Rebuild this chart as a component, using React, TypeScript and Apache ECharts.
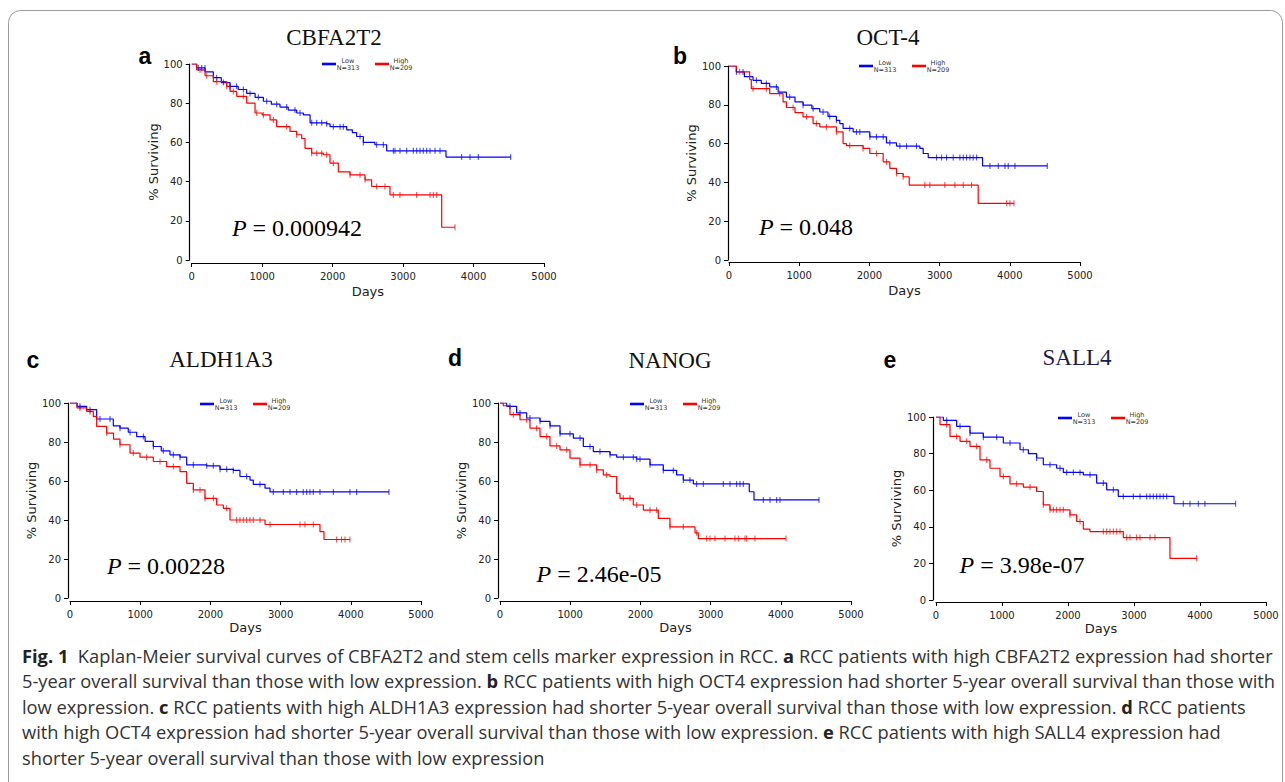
import React, { useEffect, useRef } from "react";
import * as echarts from "echarts";

// ---------- data ----------
const xTicksMax = 5000;
const yTicksMax = 100;
const genes = ["CBFA2T2", "OCT-4", "ALDH1A3", "NANOG", "SALL4"];
const letters = ["a", "b", "c", "d", "e"];
const pValues = ["0.000942", "0.048", "0.00228", "2.46e-05", "3.98e-07"];
const groupLabels = ["Low", "High"];
const groupN = ["N=313", "N=209"];

const lowA = [[0,100],[70,98],[190,96],[307,93],[420,90.5],[544,88.6],[660,87],[780,85],[900,83],[1017,81],[1130,79.5],[1253,78],[1370,76.5],[1490,75],[1585,74],[1680,70],[1915,69.5],[1963,68],[2200,66.4],[2280,65],[2340,63],[2436,60],[2600,58.8],[2767,55.7],[3609,52.5],[4527,52.5]];
const highA = [[0,100],[70,97],[190,94],[307,91],[497,88.6],[544,86],[639,83.5],[780,80],[899,75],[1000,74],[1112,71.5],[1206,68],[1395,65.6],[1490,63.9],[1561,62],[1608,57],[1703,54.5],[1868,53.7],[1963,49.4],[2081,45],[2247,43.4],[2460,40.9],[2554,37.5],[2814,33.2],[3548,16.7],[3737,16.7]];
const lowB = [[0,100],[105,96.9],[220,94.5],[342,92.6],[460,91],[580,89.2],[700,86.5],[818,84],[940,81.5],[1055,79.8],[1180,78],[1293,76.3],[1410,74],[1530,72],[1578,70.3],[1625,67.8],[1768,66],[2006,63.5],[2243,60.4],[2386,58.7],[2719,57.5],[2766,54.9],[2838,52.8],[3612,48.5],[4534,48.5]];
const highB = [[0,100],[105,97],[295,93],[318,88.3],[580,85.8],[770,81.5],[818,78.6],[940,76],[1055,73.8],[1198,70.3],[1293,68.6],[1530,66],[1625,60],[1673,59],[1910,57.5],[2006,54.9],[2196,50.6],[2291,47.2],[2386,44.6],[2481,42.9],[2567,38.6],[3550,29.2],[4059,29.2]];
const lowC = [[0,100],[100,98.3],[237,96.6],[380,91.8],[617,88.3],[712,87.1],[830,85],[950,82.8],[1070,80.3],[1187,77.7],[1300,75.5],[1424,73.4],[1567,72.2],[1662,68.3],[1947,67.8],[2137,66],[2326,65.4],[2421,62.3],[2564,60.5],[2611,58.3],[2778,56.3],[2849,54.4],[4544,54.4]];
const highC = [[0,100],[100,97.5],[237,95.7],[332,93.1],[380,88],[522,84.6],[620,81.5],[712,78.6],[855,74.3],[997,72.2],[1187,70],[1377,67.4],[1567,64.8],[1662,58.8],[1757,55.4],[1923,51.1],[2089,47.7],[2184,46],[2279,40],[2778,37.7],[3561,34],[3618,30],[3988,30]];
const lowD = [[0,100],[95,98.3],[237,94.9],[380,92.3],[570,90.6],[712,88.3],[855,84.2],[1045,82],[1187,77.7],[1329,75.1],[1567,73.4],[1662,72.2],[1947,71.2],[2137,68.3],[2326,65.4],[2516,63.1],[2611,60.5],[2754,58.5],[3551,54.5],[3618,50.3],[4544,50.3]];
const highD = [[0,100],[47,98.6],[142,94],[285,91.4],[427,87.1],[570,82.8],[712,78],[855,76],[997,71.7],[1140,68.3],[1377,65.7],[1472,63.1],[1567,62.3],[1662,53.7],[1709,51.1],[1899,47.7],[2042,45.1],[2255,40.8],[2421,36.5],[2778,33.4],[2825,30.5],[4074,30.5]];
const lowE = [[0,100],[111,98.2],[313,94.9],[515,91.2],[717,89],[1020,85.8],[1273,82.1],[1400,80],[1525,77.6],[1626,73.9],[1828,72],[1929,69.7],[2232,68.4],[2434,63.9],[2586,60.2],[2762,56.6],[3606,52.6],[4540,52.6]];
const highE = [[0,100],[61,95.8],[212,89.4],[364,86.7],[515,84],[667,76.6],[818,72],[970,67.5],[1121,63.5],[1323,61.7],[1525,59.3],[1626,52],[1727,49.3],[2030,46.5],[2131,42.9],[2232,38.7],[2333,37.4],[2838,34.1],[3545,22.8],[3949,22.8]];

const lowCensA = [95,142,189,355,449,544,638,733,828,946,1064,1206,1348,1466,1537,1703,1774,1845,1916,2010,2105,2152,2389,2436,2625,2720,2862,2885,2956,3051,3145,3193,3240,3287,3335,3382,3453,3524,3831,3950,4068,4527];
const highCensA = [118,213,355,497,591,733,922,1017,1159,1348,1490,1703,1774,1845,1916,2010,2247,2389,2460,2625,2743,2862,2956,3193,3382,3429,3477,3737];
const lowCensB = [105,200,390,532,675,865,1055,1198,1340,1435,1530,1720,1816,1863,2006,2101,2196,2291,2434,2529,2671,2957,3028,3099,3194,3289,3337,3384,3432,3479,3527,3717,3836,3931,3978,4073,4534];
const highCensB = [152,342,532,722,913,1103,1245,1388,1530,1720,1910,2101,2243,2386,2481,2790,2861,3075,3218,3337,3455,3955,4002,4059];
const lowCensC = [142,285,427,570,712,855,1045,1187,1329,1472,1567,1757,1947,2042,2137,2232,2326,2516,2706,2896,3039,3134,3228,3323,3371,3418,3466,3561,3751,3988,4083,4544];
const highCensC = [142,285,522,712,902,1092,1282,1472,1757,1852,1923,2042,2232,2374,2421,2469,2516,2564,2611,2706,2849,3276,3347,3466,3798,3869,3917,3988];
const lowCensD = [142,285,427,570,712,855,997,1140,1282,1424,1567,1757,1899,1947,1994,2137,2326,2469,2611,2706,2801,2896,3181,3276,3371,3418,3466,3751,3846,3941,3988,4544];
const highCensD = [190,380,522,665,807,950,1140,1282,1377,1519,1757,1852,1947,2137,2232,2421,2611,2801,2944,2991,3062,3205,3347,3395,3490,3513,3632,4074];
const lowCensE = [162,364,515,717,919,1121,1323,1525,1727,1879,1980,2081,2182,2333,2535,2687,2838,2990,3091,3192,3242,3293,3343,3394,3444,3495,3747,3848,3974,4075,4540];
const highCensE = [162,313,465,616,768,1020,1222,1424,1626,1727,1778,1828,1879,1929,2030,2182,2535,2586,2636,2687,2737,2788,2889,2939,3040,3091,3242,3318,3949];

const captionLines = [
  "{b|Fig. 1}  Kaplan-Meier survival curves of CBFA2T2 and stem cells marker expression in RCC. {b|a} RCC patients with high CBFA2T2 expression had shorter",
  "5-year overall survival than those with low expression. {b|b} RCC patients with high OCT4 expression had shorter 5-year overall survival than those with",
  "low expression. {b|c} RCC patients with high ALDH1A3 expression had shorter 5-year overall survival than those with low expression. {b|d} RCC patients",
  "with high OCT4 expression had shorter 5-year overall survival than those with low expression. {b|e} RCC patients with high SALL4 expression had",
  "shorter 5-year overall survival than those with low expression",
];

const lows = [lowA, lowB, lowC, lowD, lowE];
const highs = [highA, highB, highC, highD, highE];
const lowCens = [lowCensA, lowCensB, lowCensC, lowCensD, lowCensE];
const highCens = [highCensA, highCensB, highCensC, highCensD, highCensE];

// ---------- layout (pixels) ----------
const layout = [
  { x0: 191.7, x1: 544, y0: 260, y1: 64, xOff: 3, yOff: 2, xGap: 22, title: [334, 37], letter: [145, 56], p: [297, 228], leg: [322, 64], tcol: "#111" },
  { x0: 729, x1: 1080, y0: 260, y1: 66, xOff: 2, yOff: 1, xGap: 22, title: [888, 37], letter: [680, 56], p: [806, 227], leg: [859, 66], tcol: "#111" },
  { x0: 70, x1: 421, y0: 598, y1: 403, xOff: 3, yOff: 2, xGap: 20, title: [221, 359], letter: [33, 360], p: [166, 566], leg: [200, 404], tcol: "#111" },
  { x0: 500, x1: 851, y0: 598, y1: 403, xOff: 3, yOff: 2, xGap: 20, title: [670, 360], letter: [455, 358], p: [599, 574], leg: [630, 404], tcol: "#111" },
  { x0: 936, x1: 1266, y0: 600, y1: 417, xOff: 2, yOff: 3, xGap: 20, title: [1077, 357], letter: [890, 360], p: [1022, 565], leg: [1058, 418], tcol: "#1c1c48" },
];

const BLUE = "#0000ff";
const RED = "#ff0000";
const SANS = "DejaVu Sans";
const SERIF = "Liberation Serif";
const CAPTION_FONT = "Open Sans";
const CAPTION_SIZE = 18.3;

function stepAt(curve: number[][], t: number) {
  let v = curve[0][1];
  for (const [d, s] of curve) {
    if (d <= t) v = s;
    else break;
  }
  return v;
}

function buildOption() {
  const grid: any[] = [];
  const xAxis: any[] = [];
  const yAxis: any[] = [];
  const series: any[] = [];
  const graphic: any[] = [];

  const axisCommon = {
    axisLine: { show: true, onZero: false, lineStyle: { color: "#000", width: 1.2 } },
    axisTick: { show: true, length: 4, lineStyle: { color: "#000", width: 1 } },
    splitLine: { show: false },
    nameLocation: "middle",
    nameTextStyle: { fontSize: 13, fontFamily: SANS, color: "#222" },
  };

  layout.forEach((l, i) => {
    grid.push({ left: l.x0, top: l.y1, width: l.x1 - l.x0, height: l.y0 - l.y1 });
    xAxis.push({
      ...axisCommon,
      type: "value",
      gridIndex: i,
      min: 0,
      max: xTicksMax,
      interval: 1000,
      offset: l.xOff,
      name: "Days",
      nameGap: l.xGap,
      axisLabel: { fontSize: 10, fontFamily: SANS, color: "#222", margin: 8, formatter: (v: number) => String(v) },
    });
    yAxis.push({
      ...axisCommon,
      type: "value",
      gridIndex: i,
      min: 0,
      max: yTicksMax,
      interval: 20,
      offset: l.yOff,
      name: "% Surviving",
      nameGap: 30,
      axisLabel: { fontSize: 10, fontFamily: SANS, color: "#222", margin: 7 },
    });

    const groups = [
      { curve: lows[i], cens: lowCens[i], color: BLUE, name: groupLabels[0] },
      { curve: highs[i], cens: highCens[i], color: RED, name: groupLabels[1] },
    ];
    groups.forEach((g) => {
      series.push({
        type: "line",
        name: g.name,
        xAxisIndex: i,
        yAxisIndex: i,
        step: "end",
        data: g.curve,
        symbol: "none",
        lineStyle: { color: g.color, width: 1.2 },
        z: 3,
      });
      series.push({
        type: "scatter",
        xAxisIndex: i,
        yAxisIndex: i,
        data: g.cens.map((t) => [t, stepAt(g.curve, t)]),
        symbol: "rect",
        symbolSize: [1.1, 6],
        itemStyle: { color: g.color, opacity: 0.7 },
        z: 4,
      });
    });

    graphic.push({
      type: "text",
      x: l.title[0],
      y: l.title[1],
      style: { text: genes[i], fontFamily: SERIF, fontSize: 23, fill: l.tcol, align: "center", verticalAlign: "middle" },
    });
    graphic.push({
      type: "text",
      x: l.letter[0],
      y: l.letter[1],
      style: { text: letters[i], fontFamily: "Liberation Sans", fontWeight: "bold", fontSize: 23, fill: "#000", align: "center", verticalAlign: "middle" },
    });
    graphic.push({
      type: "text",
      x: l.p[0],
      y: l.p[1],
      style: {
        text: "{i|P} = " + pValues[i],
        fontFamily: SERIF,
        fontSize: 24,
        fill: "#000",
        align: "center",
        verticalAlign: "middle",
        rich: {
          i: { fontFamily: SERIF, fontSize: 24, fontStyle: "italic", fill: "#000" },
        },
      },
    });
    const lx = l.leg[0];
    const ly = l.leg[1];
    [0, 1].forEach((k) => {
      const bx = lx + k * 53;
      graphic.push({
        type: "line",
        shape: { x1: bx, y1: ly, x2: bx + 14, y2: ly },
        style: { stroke: k === 0 ? BLUE : RED, lineWidth: 2.6 },
      });
      graphic.push({
        type: "text",
        x: bx + 26,
        y: ly - 3.5,
        style: { text: groupLabels[k], fontFamily: SANS, fontSize: 6.5, fill: "#333", align: "center", verticalAlign: "middle" },
      });
      graphic.push({
        type: "text",
        x: bx + 26,
        y: ly + 3.5,
        style: { text: groupN[k], fontFamily: SANS, fontSize: 6.5, fill: "#333", align: "center", verticalAlign: "middle" },
      });
    });
  });

  graphic.push({
    type: "rect",
    shape: { x: 8.5, y: 10.5, width: 1274, height: 820, r: 12 },
    style: { fill: "none", stroke: "#9a9a9a", lineWidth: 1 },
    z: -1,
  });

  const capY = [655, 680, 706, 731, 757];
  captionLines.forEach((line, k) => {
    graphic.push({
      type: "text",
      x: 22,
      y: capY[k],
      style: {
        text: line,
        fontFamily: CAPTION_FONT,
        fontSize: CAPTION_SIZE,
        fill: "#333",
        align: "left",
        verticalAlign: "middle",
        rich: {
          b: { fontFamily: CAPTION_FONT, fontSize: CAPTION_SIZE, fontWeight: "bold", fill: "#222" },
        },
      },
    });
  });

  return {
    animation: false,
    backgroundColor: "#fff",
    grid,
    xAxis,
    yAxis,
    series,
    graphic,
  };
}

export default function App() {
  const ref = useRef<HTMLDivElement>(null);
  useEffect(() => {
    if (!ref.current) return;
    const chart = echarts.init(ref.current, undefined, { renderer: "svg" });
    chart.setOption(buildOption() as any);
    return () => chart.dispose();
  }, []);
  return (
    <div
      ref={ref}
      style={{ position: "absolute", left: 0, top: 0, width: 1285, height: 782, background: "#fff" }}
    />
  );
}
